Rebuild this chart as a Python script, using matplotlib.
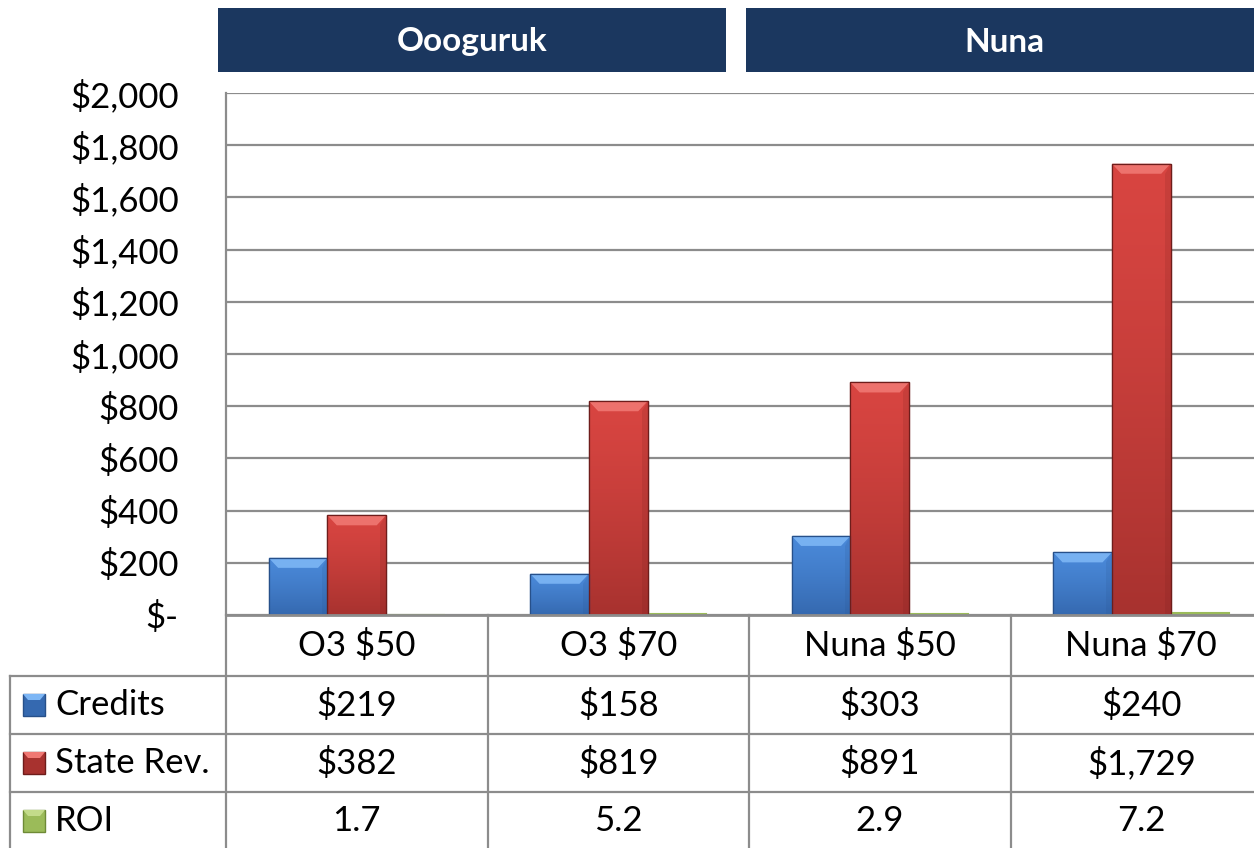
import matplotlib
matplotlib.use("Agg")
import matplotlib.pyplot as plt
from matplotlib.patches import Rectangle, Polygon
from matplotlib.transforms import blended_transform_factory
from matplotlib.colors import to_rgb
import numpy as np

plt.rcParams['font.family'] = ['Lato', 'DejaVu Sans']

categories = ["O3 $50", "O3 $70", "Nuna $50", "Nuna $70"]
credits = [219, 158, 303, 240]
state_rev = [382, 819, 891, 1729]
roi = [1.7, 5.2, 2.9, 7.2]
credits_labels = ["$219", "$158", "$303", "$240"]
state_rev_labels = ["$382", "$819", "$891", "$1,729"]
roi_labels = ["1.7", "5.2", "2.9", "7.2"]
series_names = ["Credits", "State Rev.", "ROI"]
yticks = [0, 200, 400, 600, 800, 1000, 1200, 1400, 1600, 1800, 2000]
groups = ["Oooguruk", "Nuna"]

W, H = 1254, 848
fig = plt.figure(figsize=(W / 100, H / 100), dpi=100)

def fx(px):
    return px / W

def fy(py):
    return 1 - py / H

ax_left, ax_right, ax_top, ax_bot = 226, 1272, 93, 615
ax = fig.add_axes([fx(ax_left), fy(ax_bot), fx(ax_right - ax_left), (ax_bot - ax_top) / H])

grid_col = "#8C8C8C"
x = np.arange(len(categories))
bw = 0.2245

# (top colour, bottom colour, bevel light, edge dark)
colors = {
    "Credits": ("#4A89D9", "#3569B0", "#7DB6F5", "#27508A"),
    "State Rev.": ("#D84541", "#A8322F", "#F07873", "#6E1D1B"),
    "ROI": ("#9BBB59", "#9BBB59", "#C3DB8A", "#6E8A36"),
}

ylim = (0, 2000)
px_per_unit = (ax_bot - ax_top) / (ylim[1] - ylim[0])

series = [credits, state_rev, roi]
for i, (name, vals) in enumerate(zip(series_names, series)):
    top_c, bot_c, light, dark = colors[name]
    bars = ax.bar(x + (i - 1) * bw, vals, width=bw, color=top_c, edgecolor=dark,
                  linewidth=0.9, zorder=3)
    if name == "ROI":
        for p in bars:
            p.set_edgecolor(top_c)
            p.set_linewidth(1.5)
        continue
    t = np.array(to_rgb(top_c))
    b = np.array(to_rgb(bot_c))
    grad = np.linspace(0, 1, 64)[:, None, None] ** 1.3
    img = t[None, None, :] * (1 - grad) + b[None, None, :] * grad
    for p in bars:
        x0, w, h = p.get_x(), p.get_width(), p.get_height()
        im = ax.imshow(img, extent=(x0, x0 + w, 0, h), aspect='auto', origin='upper',
                       zorder=3.5, interpolation='bilinear')
        im.set_clip_path(p)
        bev_x = w * 0.16
        bev_y = 10 / px_per_unit
        ax.add_patch(Polygon([(x0, h), (x0 + w, h), (x0 + w - bev_x, h - bev_y),
                              (x0 + bev_x, h - bev_y)], closed=True,
                             facecolor=light, edgecolor='none', zorder=4, alpha=0.9))
        ax.add_patch(Polygon([(x0 + w, h), (x0 + w, 0), (x0 + w - bev_x * 0.6, 0),
                              (x0 + w - bev_x * 0.6, h - bev_y)], closed=True,
                             facecolor=dark, alpha=0.15, edgecolor='none', zorder=4))
        ax.add_patch(Rectangle((x0, 0), w, h, fill=False, edgecolor=dark,
                               linewidth=0.9, zorder=5))

ax.set_xlim(-0.5, len(categories) - 0.5)
ax.set_ylim(*ylim)
ax.set_yticks(yticks)
ax.set_yticklabels(["$-" if v == 0 else "${:,}".format(v) for v in yticks])
ax.tick_params(axis='y', length=0, pad=34, labelsize=25)
ax.set_xticks([])
ax.yaxis.grid(True, color=grid_col, linewidth=1.6, zorder=0)
ax.set_axisbelow(True)
for s in ["top", "right"]:
    ax.spines[s].set_visible(False)
ax.spines["left"].set_color(grid_col)
ax.spines["left"].set_linewidth(1.6)
ax.spines["bottom"].set_color(grid_col)
ax.spines["bottom"].set_linewidth(2.0)
ax.spines["bottom"].set_zorder(6)

# Table below
tb = blended_transform_factory(ax.transData, fig.transFigure)
rows_y = [615, 676, 734, 792, 850]
lw = 1.6
for bnd in np.arange(len(categories) + 1) - 0.5:
    fig.add_artist(plt.Line2D([bnd, bnd], [fy(rows_y[0]), fy(H)], transform=tb,
                              color=grid_col, linewidth=lw))
for ry in rows_y[1:4]:
    fig.add_artist(plt.Line2D([fx(10), fx(W)], [fy(ry), fy(ry)], transform=fig.transFigure,
                              color=grid_col, linewidth=lw))
fig.add_artist(plt.Line2D([fx(10), fx(10)], [fy(676), fy(H)], transform=fig.transFigure,
                          color=grid_col, linewidth=lw))

fs = 25
for xi, c in zip(x, categories):
    fig.text(xi, fy((rows_y[0] + rows_y[1]) / 2), c, transform=tb, ha='center',
             va='center', fontsize=fs)
table_rows = [credits_labels, state_rev_labels, roi_labels]
for r, labels in enumerate(table_rows):
    yc = fy((rows_y[r + 1] + rows_y[r + 2]) / 2)
    for xi, lab in zip(x, labels):
        fig.text(xi, yc, lab, transform=tb, ha='center', va='center', fontsize=fs)
    top_c, bot_c, light, dark = colors[series_names[r]]
    fig.add_artist(Rectangle((fx(23), yc - 11 / H), fx(22), 22 / H, transform=fig.transFigure,
                             facecolor=bot_c if r < 2 else top_c, edgecolor=dark, linewidth=1.0))
    fig.add_artist(Polygon([(fx(23), yc + 11 / H), (fx(45), yc + 11 / H),
                            (fx(40), yc + 5 / H), (fx(28), yc + 5 / H)], closed=True,
                           transform=fig.transFigure, facecolor=light, edgecolor='none'))
    fig.text(fx(55), yc, series_names[r], ha='left', va='center', fontsize=fs)

# header boxes
hdr_col = "#1B375F"
boxes = [(218, 726), (746, 1262)]
for (l, r), g in zip(boxes, groups):
    fig.add_artist(Rectangle((fx(l), fy(72)), fx(r - l), 64 / H, transform=fig.transFigure,
                             facecolor=hdr_col, edgecolor='none'))
    fig.text(fx((l + r) / 2), fy(42), g,
             ha='center', va='center', fontsize=24, fontweight='bold', color='white')

fig.savefig("out.png", dpi=100)
